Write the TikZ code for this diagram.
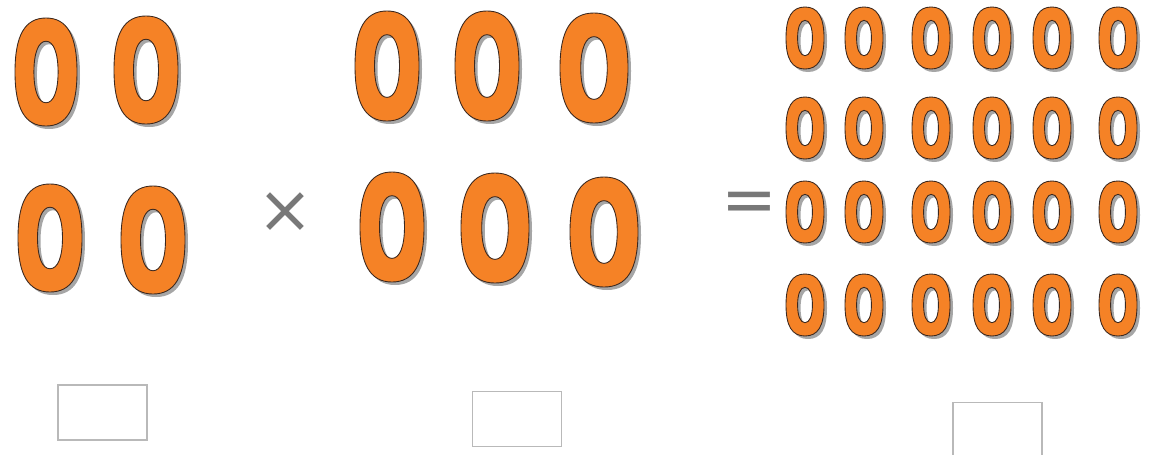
\documentclass[tikz,border=0pt]{standalone}
\usepackage{fontspec}
\usetikzlibrary{positioning}
\newfontfamily\signfont{DejaVu Sans}
\definecolor{zeroorange}{RGB}{245,130,38}
\definecolor{zeroline}{RGB}{60,40,30}
\definecolor{signgray}{RGB}{120,120,120}
\definecolor{boxgray}{RGB}{185,185,185}
\tikzset{
 % rounded oval, half width #1, half height #2, squareness #3
 oval/.style n args={3}{insert path={
  (0,-#2) .. controls (#3*#1,-#2) and (#1,-#3*#2) .. (#1,0)
  .. controls (#1,#3*#2) and (#3*#1,#2) .. (0,#2)
  .. controls (-#3*#1,#2) and (-#1,#3*#2) .. (-#1,0)
  .. controls (-#1,-#3*#2) and (-#3*#1,-#2) .. (0,-#2) -- cycle}},
 pics/nought/.style args={#1/#2}{code={
  \fill[black!35, even odd rule, shift={(3,3)}]
     [oval={#1}{#2}{0.68}] [oval={0.39*#1}{0.57*#2}{0.62}];
  \filldraw[fill=zeroorange, draw=zeroline, line width=0.5pt, even odd rule]
     [oval={#1}{#2}{0.68}] [oval={0.39*#1}{0.57*#2}{0.62}];
 }},
 answerbox/.style={draw=boxgray, line width=1pt, minimum width=1.78cm, minimum height=1.1cm, inner sep=0pt},
 sign/.style={text=signgray, font=\signfont\fontsize{38}{38}\selectfont}
}
\begin{document}
\begin{tikzpicture}[x=0.02cm, y=-0.02cm]
 \useasboundingbox (0,0) rectangle (1176,454);
 % first factor: 2 x 2
 \pic (a1) at (46,72) {nought=31/54};
 \pic (a2) at (146,70) {nought=32/54};
 \pic (a3) at (50,238) {nought=32/54};
 \pic (a4) at (153,240) {nought=32/54};
 \node[sign] (times) at (285,213) {×};
 % second factor: 2 x 3
 \pic (b1) at (387,66) {nought=32/55};
 \pic (b2) at (487,66) {nought=32/55};
 \pic (b3) at (594,68) {nought=34/55};
 \pic (b4) at (392,227) {nought=32/55};
 \pic (b5) at (495,228) {nought=34/55};
 \pic (b6) at (604,232) {nought=34/55};
 \node[sign] (equals) at (749,207) {=};
 % product: 4 x 6
 \foreach \row/\yy in {1/38,2/128,3/212,4/305}
  \foreach \col/\xx in {1/805,2/864,3/931,4/992,5/1052,6/1118}
   \pic (c\row\col) at (\xx,\yy) {nought=19/31};
 % boxes for the numbers
 \node[answerbox] (box1) at (102.5,412.5) {};
 \node[answerbox] (box2) at (517,419) {};
 \node[answerbox] (box3) at (997.5,430) {};
\end{tikzpicture}
\end{document}
